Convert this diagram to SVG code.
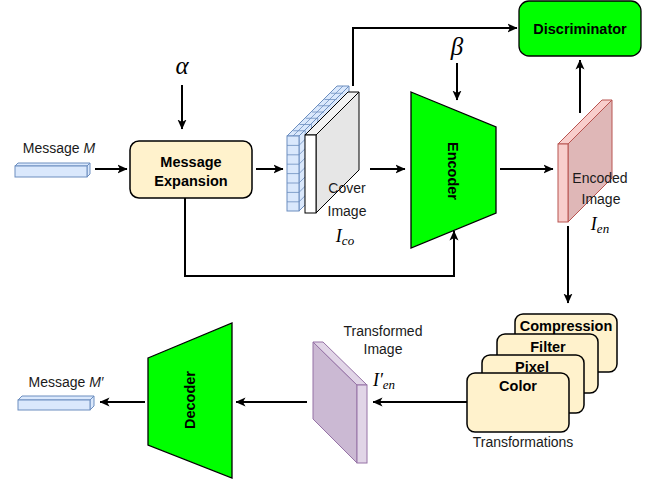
<svg xmlns="http://www.w3.org/2000/svg" width="654" height="485" viewBox="0 0 654 485">
<defs>
<marker id="ah" viewBox="0 0 10 10" refX="9.5" refY="5" markerWidth="10" markerHeight="10" markerUnits="userSpaceOnUse" orient="auto">
<path d="M0,0.5 L10,5 L0,9.5 L2.5,5 z" fill="#000"/>
</marker>
<style>
.lbl{font-family:"Liberation Sans",Arial,Helvetica,sans-serif;font-size:14px;fill:#1a1a1a;text-anchor:middle}
.bold{font-family:"Liberation Sans",Arial,Helvetica,sans-serif;font-size:14.5px;font-weight:bold;fill:#000;text-anchor:middle}
.math{font-family:"Liberation Serif","Times New Roman",serif;font-style:italic;fill:#000;text-anchor:middle}
.conn{fill:none;stroke:#000;stroke-width:2;marker-end:url(#ah)}
.green{fill:#00ff00;stroke:#000;stroke-width:1.3}
.yel{fill:#fff2cc;stroke:#000;stroke-width:1.5}
.blue{fill:#dae8fc;stroke:#6c8ebf;stroke-width:1}
.cell{fill:none;stroke:#6c8ebf;stroke-width:0.8}
</style>
</defs>
<rect width="654" height="485" fill="#fff"/>

<g id="message-in">
<polygon class="blue" points="15,166 18,163 90,163 87,166"/>
<polygon class="blue" points="87,166 90,163 90,174 87,177"/>
<rect class="blue" x="15" y="166" width="72" height="11"/>
<text class="lbl" x="59" y="153">Message <tspan font-style="italic">M</tspan></text>
</g>

<g id="alpha">
<text class="math" x="182" y="74" font-size="25">α</text>
</g>

<g id="message-expansion">
<rect class="yel" x="130" y="141" width="122" height="57" rx="9"/>
<text class="bold" x="191" y="167">Message</text>
<text class="bold" x="191" y="186">Expansion</text>
</g>

<g id="cover-image">
<polygon class="blue" points="299,136 349,86 349,161 299,211"/>
<polygon class="blue" points="287,136 299,136 349,86 337,86"/>
<rect class="blue" x="287" y="136" width="12" height="75"/>
<path class="cell" d="M287,145.4H299M287,154.8H299M287,164.2H299M287,173.6H299M287,183H299M287,192.4H299M287,201.8H299"/>
<path class="cell" d="M299,145.4L349,95.4M299,154.8L349,104.8M299,164.2L349,114.2M299,173.6L349,123.6M299,183L349,133M299,192.4L349,142.4M299,201.8L349,151.8"/>
<path class="cell" d="M293,136L343,86M293.25,130.75H305.25M299.5,124.5H311.5M305.75,118.25H317.75M312,112H324M318.25,105.75H330.25M324.5,99.5H336.5M330.75,93.25H342.75"/>
<path class="cell" d="M305.25,130.75V205.75M311.5,124.5V199.5M317.75,118.25V193.25"/>
<polygon points="316,135 359,92 359,170 316,213" fill="#e6e6e6" stroke="#000" stroke-width="1"/>
<polygon points="305,135 316,135 359,92 348,92" fill="#f2f2f2" stroke="#000" stroke-width="1"/>
<rect x="305" y="135" width="11" height="78" fill="#fff" stroke="#000" stroke-width="1"/>
<text class="lbl" x="347" y="193">Cover</text>
<text class="lbl" x="347" y="216">Image</text>
<text class="math" x="345" y="242" font-size="18">I<tspan font-size="13" dy="3">co</tspan></text>
</g>

<g id="beta">
<text class="math" x="457" y="55" font-size="25">β</text>
</g>

<g id="discriminator">
<rect x="519" y="1" width="122" height="55" rx="10" fill="#00ff00" stroke="#000" stroke-width="1.3"/>
<text class="bold" x="580" y="34">Discriminator</text>
</g>

<g id="encoder">
<polygon class="green" points="411,92 496,127 496,213 411,248"/>
<text class="bold" transform="translate(453,171) rotate(90)" y="5">Encoder</text>
</g>

<g id="encoded-image">
<polygon points="568,144 612,100 612,178 568,222" fill="#dfb7b7" stroke="#b85450" stroke-width="1"/>
<polygon points="558,144 568,144 612,100 602,100" fill="#f8cecc" stroke="#b85450" stroke-width="1"/>
<rect x="558" y="144" width="10" height="78" fill="#f8cecc" stroke="#b85450" stroke-width="1"/>
<text class="lbl" x="600" y="183">Encoded</text>
<text class="lbl" x="601" y="204">Image</text>
<text class="math" x="600" y="230" font-size="18">I<tspan font-size="13" dy="3">en</tspan></text>
</g>

<g id="transformations">
<rect class="yel" x="515" y="314" width="102" height="58" rx="8"/>
<text class="bold" x="566" y="331">Compression</text>
<rect class="yel" x="497" y="334" width="101" height="59" rx="8"/>
<text class="bold" x="548" y="352">Filter</text>
<rect class="yel" x="482" y="355" width="102" height="58" rx="8"/>
<text class="bold" x="532" y="372">Pixel</text>
<rect class="yel" x="467" y="373" width="102" height="59" rx="8"/>
<text class="bold" x="518" y="391">Color</text>
<text class="lbl" x="523" y="447">Transformations</text>
</g>

<g id="transformed-image">
<polygon points="313,342 357,385 357,463 313,419" fill="#cbb9d3" stroke="#9673a6" stroke-width="1"/>
<polygon points="313,342 323,342 367,385 357,385" fill="#e1d5e7" stroke="#9673a6" stroke-width="1"/>
<rect x="357" y="385" width="10" height="78" fill="#e1d5e7" stroke="#9673a6" stroke-width="1"/>
<text class="lbl" x="383" y="336">Transformed</text>
<text class="lbl" x="383" y="354">Image</text>
<text class="math" x="384" y="386" font-size="18">I′<tspan font-size="13" dy="3">en</tspan></text>
</g>

<g id="decoder">
<polygon class="green" points="148,358 232,323 232,478 148,445"/>
<text class="bold" transform="translate(190,400) rotate(-90)" y="5">Decoder</text>
</g>

<g id="message-out">
<polygon class="blue" points="18,400 22,396 94,396 90,400"/>
<polygon class="blue" points="90,400 94,396 94,406 90,410"/>
<rect class="blue" x="18" y="400" width="72" height="10"/>
<text class="lbl" x="66" y="387">Message <tspan font-style="italic">M′</tspan></text>
</g>

<g id="connectors">
<path class="conn" d="M95,169H127"/>
<path class="conn" d="M182,85V129"/>
<path class="conn" d="M256,169H283"/>
<path class="conn" d="M353,86V28H517"/>
<path class="conn" d="M457,63V100"/>
<path class="conn" d="M370,169H405"/>
<path class="conn" d="M185,198V276H454V231"/>
<path class="conn" d="M500,169H553"/>
<path class="conn" d="M580,113V60"/>
<path class="conn" d="M568,226V303"/>
<path class="conn" d="M467,402H373"/>
<path class="conn" d="M307,402H236"/>
<path class="conn" d="M145,402H100"/>
</g>
</svg>
